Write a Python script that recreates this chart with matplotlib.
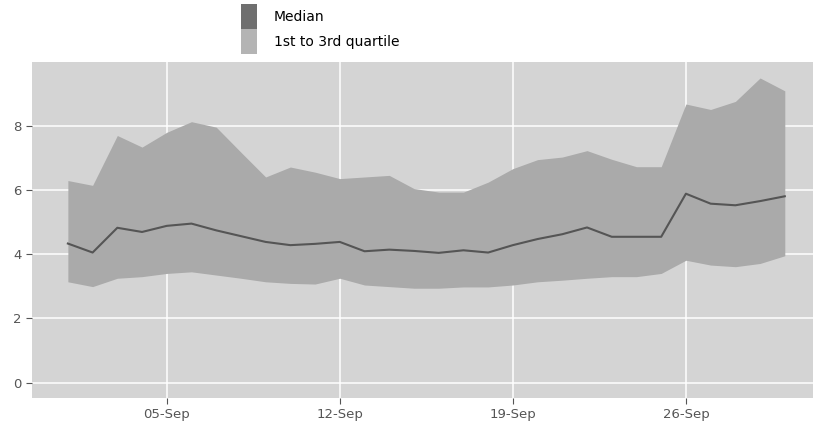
import numpy as np
import pandas as pd
import matplotlib
matplotlib.use("Agg")
import matplotlib.pyplot as plt
import matplotlib.dates as mdates
from matplotlib.patches import Patch

# daily values, 1-30 Sep
days = pd.date_range("2021-09-01", "2021-09-30", freq="D")
median = [4.33, 4.05, 4.82, 4.69, 4.88, 4.95, 4.74, 4.56, 4.38, 4.28,
          4.32, 4.38, 4.09, 4.14, 4.10, 4.04, 4.12, 4.05, 4.28, 4.47,
          4.62, 4.83, 4.54, 4.54, 4.54, 5.88, 5.57, 5.52, 5.65, 5.80]
q3 = [6.29, 6.14, 7.69, 7.33, 7.79, 8.12, 7.95, 7.17, 6.40, 6.71,
      6.55, 6.35, 6.40, 6.45, 6.04, 5.93, 5.93, 6.24, 6.66, 6.94,
      7.02, 7.22, 6.95, 6.72, 6.72, 8.67, 8.50, 8.75, 9.48, 9.08]
q1 = [3.14, 2.99, 3.25, 3.30, 3.40, 3.45, 3.35, 3.25, 3.14, 3.09,
      3.07, 3.25, 3.04, 2.99, 2.94, 2.94, 2.98, 2.98, 3.04, 3.14,
      3.19, 3.25, 3.30, 3.30, 3.40, 3.81, 3.66, 3.61, 3.71, 3.95]
yticks = [0, 2, 4, 6, 8]
xtick_days = ["2021-09-05", "2021-09-12", "2021-09-19", "2021-09-26"]

fig = plt.figure(figsize=(8.13, 4.21), dpi=100)
ax = fig.add_axes([0.0394, 0.0546, 0.97, 0.798])
ax.set_facecolor("#d4d4d4")

ax.fill_between(days, q1, q3, color="#aaaaaa", linewidth=0, zorder=2)
ax.plot(days, median, color="#555555", linewidth=1.5, zorder=3)

span = days[-1] - days[0]
ax.set_xlim(days[0] - span * 0.05, days[-1] + span * 0.05)
ax.set_ylim(-0.475, 9.975)
ax.set_yticks(yticks)
ax.set_xticks(pd.to_datetime(xtick_days))
ax.xaxis.set_major_formatter(mdates.DateFormatter("%d-%b"))

ax.grid(True, color="white", linewidth=1.1, zorder=1)
ax.set_axisbelow(True)
for s in ax.spines.values():
    s.set_visible(False)
ax.tick_params(colors="#555555", labelsize=9.5, length=4, width=0.8)

handles = [Patch(facecolor="#6f6f6f", edgecolor="none", label="Median"),
           Patch(facecolor="#b4b4b4", edgecolor="none", label="1st to 3rd quartile")]
fig.legend(handles=handles, loc="upper left", bbox_to_anchor=(0.297, 0.99),
           frameon=False, fontsize=10, handlelength=1.15, handleheight=2.4,
           labelspacing=0.0, borderpad=0.0, borderaxespad=0.0, handletextpad=1.2)

fig.savefig("out.png", dpi=100)
